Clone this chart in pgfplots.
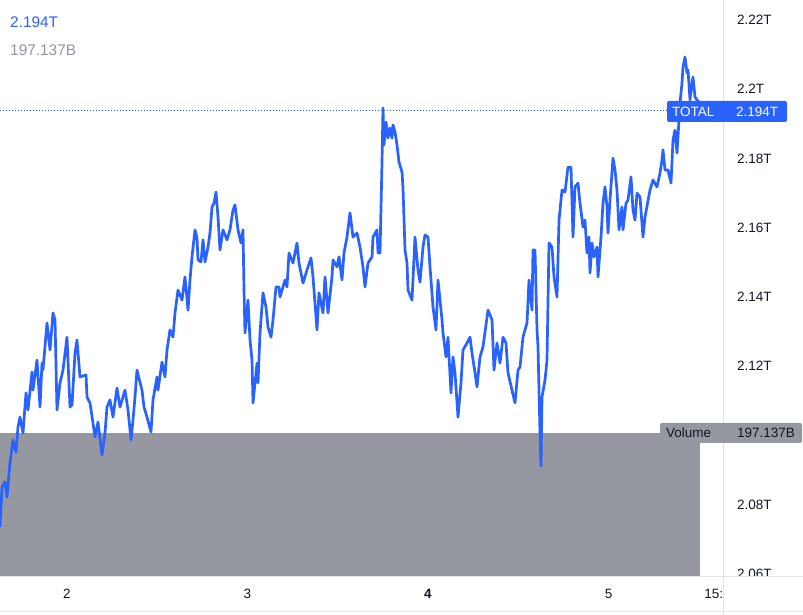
\documentclass[border=0pt]{standalone}
\usepackage{pgfplots}
\pgfplotsset{compat=1.18}
\usepackage{fontspec}
\setmainfont{Liberation Sans}
\definecolor{tvblue}{RGB}{41,98,255}
\definecolor{volgray}{RGB}{149,152,161}
\definecolor{tvline}{RGB}{224,227,235}
\definecolor{tvtext}{RGB}{19,23,34}
\begin{document}
\begin{tikzpicture}
\useasboundingbox[fill=white] (0pt,-38pt) rectangle (803pt,577pt);
% volume pane
\begin{axis}[scale only axis, width=723pt, height=577pt,
  xmin=1.62881, xmax=5.63435, ymin=0, ymax=789.8, hide axis, clip=true]
\addplot[fill=volgray, draw=none] coordinates {(1.62881,197.137)(5.5069,197.137)} \closedcycle;
\end{axis}
% price pane
\begin{axis}[scale only axis, width=723pt, height=577pt,
  xmin=1.62881, xmax=5.63435, ymin=2.05913, ymax=2.22578,
  axis line style={draw=none}, major tick length=0pt, tick style={draw=none},
  tick label style={font=\fontsize{13.5}{16}\selectfont, text=tvtext},
  ytick={2.06,2.08,2.12,2.14,2.16,2.18,2.2,2.22},
  yticklabels={2.06T,2.08T,2.12T,2.14T,2.16T,2.18T,2.2T,2.22T},
  yticklabel pos=right,
  yticklabel style={anchor=west, inner sep=0pt, xshift=14pt},
  xtick={2,3,4,5,5.625},
  xticklabels={2,3,\textbf{4},5,15:00},
  xticklabel style={anchor=center, inner sep=0pt, yshift=-17pt},
  clip=true]
\addplot[tvblue, line width=0.8pt, dash pattern=on 1pt off 2pt] coordinates {(1.62881,2.194)(5.3241,2.194)};
\addplot[tvblue, line width=2.7pt, line join=round] coordinates {
(1.6288,2.0736)(1.6399,2.0851)(1.6565,2.0866)(1.6676,2.0822)(1.6842,2.0921)(1.7008,2.0987)
(1.7174,2.0952)(1.7285,2.1025)(1.7396,2.1053)(1.7562,2.1007)(1.7728,2.1123)(1.7839,2.1074)
(1.8061,2.1183)(1.8116,2.1131)(1.8338,2.1218)(1.8504,2.1082)(1.8615,2.1209)(1.8670,2.1189)
(1.8892,2.1325)(1.9058,2.1247)(1.9224,2.1354)(1.9335,2.1334)(1.9446,2.1074)(1.9612,2.1152)
(1.9778,2.1189)(2.0000,2.1284)(2.0166,2.1082)(2.0277,2.1088)(2.0443,2.1238)(2.0554,2.1276)
(2.0720,2.1169)(2.1053,2.1175)(2.1108,2.1111)(2.1274,2.1094)(2.1440,2.1036)(2.1551,2.0996)
(2.1717,2.1039)(2.1939,2.0944)(2.2105,2.1007)(2.2216,2.1082)(2.2382,2.1103)(2.2548,2.1053)
(2.2770,2.1137)(2.2936,2.1082)(2.3213,2.1131)(2.3380,2.1074)(2.3546,2.0987)(2.3657,2.1045)
(2.3767,2.1111)(2.3878,2.1189)(2.4155,2.1131)(2.4266,2.1082)(2.4432,2.1053)(2.4654,2.1010)
(2.4765,2.1103)(2.4986,2.1169)(2.5042,2.1131)(2.5263,2.1212)(2.5429,2.1169)(2.5540,2.1247)
(2.5706,2.1305)(2.5873,2.1284)(2.5983,2.1354)(2.6150,2.1420)(2.6371,2.1391)(2.6537,2.1458)
(2.6704,2.1362)(2.6814,2.1449)(2.6925,2.1516)(2.7091,2.1594)(2.7202,2.1570)(2.7258,2.1507)
(2.7424,2.1501)(2.7535,2.1565)(2.7645,2.1501)(2.7812,2.1544)(2.7922,2.1585)(2.8033,2.1660)
(2.8144,2.1671)(2.8255,2.1703)(2.8366,2.1631)(2.8476,2.1536)(2.8643,2.1594)(2.8864,2.1565)
(2.9030,2.1594)(2.9197,2.1651)(2.9307,2.1666)(2.9474,2.1594)(2.9640,2.1556)(2.9751,2.1594)
(2.9806,2.1420)(2.9861,2.1296)(3.0028,2.1391)(3.0139,2.1276)(3.0249,2.1218)(3.0305,2.1094)
(3.0526,2.1209)(3.0582,2.1152)(3.0693,2.1296)(3.0859,2.1412)(3.1025,2.1371)(3.1136,2.1313)
(3.1302,2.1284)(3.1413,2.1334)(3.1579,2.1429)(3.1745,2.1429)(3.1801,2.1400)(3.2078,2.1449)
(3.2188,2.1429)(3.2299,2.1527)(3.2521,2.1498)(3.2742,2.1556)(3.2853,2.1498)(3.3075,2.1440)
(3.3296,2.1478)(3.3518,2.1513)(3.3629,2.1458)(3.3850,2.1305)(3.3961,2.1412)(3.4183,2.1354)
(3.4294,2.1458)(3.4460,2.1354)(3.4681,2.1458)(3.4737,2.1507)(3.4958,2.1487)(3.5069,2.1516)
(3.5235,2.1449)(3.5346,2.1527)(3.5512,2.1573)(3.5679,2.1643)(3.5845,2.1573)(3.6066,2.1585)
(3.6233,2.1544)(3.6399,2.1487)(3.6510,2.1429)(3.6676,2.1498)(3.6898,2.1516)(3.6953,2.1573)
(3.7175,2.1594)(3.7230,2.1527)(3.7341,2.1527)(3.7452,2.1790)(3.7507,2.1946)(3.7562,2.1839)
(3.7673,2.1905)(3.7784,2.1859)(3.7895,2.1888)(3.8006,2.1859)(3.8061,2.1897)(3.8172,2.1877)
(3.8283,2.1839)(3.8393,2.1790)(3.8560,2.1761)(3.8615,2.1715)(3.8726,2.1536)(3.8837,2.1498)
(3.8892,2.1420)(3.9114,2.1391)(3.9280,2.1573)(3.9446,2.1478)(3.9557,2.1443)(3.9723,2.1544)
(3.9834,2.1579)(4.0000,2.1573)(4.0111,2.1487)(4.0277,2.1371)(4.0443,2.1305)(4.0554,2.1449)
(4.0776,2.1334)(4.0831,2.1296)(4.0997,2.1227)(4.1108,2.1284)(4.1274,2.1123)(4.1385,2.1227)
(4.1496,2.1181)(4.1662,2.1053)(4.1828,2.1152)(4.1939,2.1247)(4.2161,2.1267)(4.2327,2.1284)
(4.2438,2.1238)(4.2604,2.1181)(4.2715,2.1140)(4.2881,2.1227)(4.3047,2.1256)(4.3324,2.1362)
(4.3546,2.1334)(4.3657,2.1189)(4.3823,2.1267)(4.3989,2.1209)(4.4155,2.1284)(4.4321,2.1267)
(4.4432,2.1181)(4.4654,2.1131)(4.4820,2.1094)(4.4986,2.1189)(4.5097,2.1198)(4.5263,2.1284)
(4.5485,2.1325)(4.5596,2.1449)(4.5762,2.1362)(4.5817,2.1536)(4.5928,2.1536)(4.6039,2.1305)
(4.6094,2.1256)(4.6205,2.1007)(4.6260,2.0912)(4.6316,2.1111)(4.6482,2.1160)(4.6593,2.1218)
(4.6704,2.1556)(4.6870,2.1544)(4.6981,2.1458)(4.7147,2.1400)(4.7258,2.1622)(4.7424,2.1709)
(4.7590,2.1703)(4.7756,2.1775)(4.7922,2.1775)(4.8033,2.1573)(4.8144,2.1718)(4.8310,2.1729)
(4.8421,2.1671)(4.8587,2.1602)(4.8698,2.1622)(4.8809,2.1527)(4.8920,2.1573)(4.8975,2.1469)
(4.9086,2.1556)(4.9197,2.1516)(4.9363,2.1544)(4.9418,2.1458)(4.9584,2.1573)(4.9695,2.1671)
(4.9806,2.1718)(4.9917,2.1660)(4.9972,2.1585)(5.0083,2.1680)(5.0249,2.1801)(5.0360,2.1767)
(5.0471,2.1709)(5.0582,2.1594)(5.0748,2.1660)(5.0803,2.1594)(5.0970,2.1671)(5.1080,2.1680)
(5.1247,2.1747)(5.1357,2.1651)(5.1468,2.1622)(5.1579,2.1700)(5.1745,2.1689)(5.1911,2.1573)
(5.2022,2.1631)(5.2299,2.1709)(5.2465,2.1738)(5.2687,2.1718)(5.2853,2.1758)(5.2964,2.1796)
(5.3019,2.1825)(5.3130,2.1767)(5.3296,2.1767)(5.3463,2.1729)(5.3573,2.1853)(5.3684,2.1882)
(5.3795,2.1816)(5.3961,2.1960)(5.4072,2.2018)(5.4127,2.2064)(5.4238,2.2093)(5.4349,2.2047)
(5.4404,2.2056)(5.4515,2.1969)(5.4626,2.2018)(5.4681,2.2035)(5.4792,2.1978)(5.4903,2.1969)
(5.5069,2.1960)(5.5235,2.1940)
};
\end{axis}
% cover overflow of scale labels in the bottom-right corner
\fill[white] (723.5pt,-38pt) rectangle (803pt,-0.5pt);
% pane separators
\draw[tvline, line width=1pt] (723pt,-38pt) -- (723pt,577pt);
\draw[tvline, line width=1pt] (0pt,0pt) -- (803pt,0pt);
\draw[tvline, line width=1pt] (0pt,-35pt) -- (803pt,-35pt);
% last value labels
\fill[tvblue, rounded corners=2pt] (667pt,455pt) rectangle (787pt,476pt);
\node[anchor=west, inner sep=0pt, text=white, font=\fontsize{13.5}{16}\selectfont] at (672pt,465.5pt) {TOTAL};
\node[anchor=west, inner sep=0pt, text=white, font=\fontsize{13.5}{16}\selectfont] at (736pt,465.5pt) {2.194T};
\fill[volgray, rounded corners=2pt] (660pt,134pt) rectangle (802pt,154pt);
\node[anchor=west, inner sep=0pt, text=tvtext, font=\fontsize{13.5}{16}\selectfont] at (666pt,144pt) {Volume};
\node[anchor=west, inner sep=0pt, text=tvtext, font=\fontsize{13.5}{16}\selectfont] at (737pt,144pt) {197.137B};
% legend values
\node[anchor=base west, inner sep=0pt, text=tvblue, font=\fontsize{15.4}{18}\selectfont] at (10pt,549pt) {2.194T};
\node[anchor=base west, inner sep=0pt, text=volgray, font=\fontsize{15.4}{18}\selectfont] at (10pt,521pt) {197.137B};
\end{tikzpicture}
\end{document}
